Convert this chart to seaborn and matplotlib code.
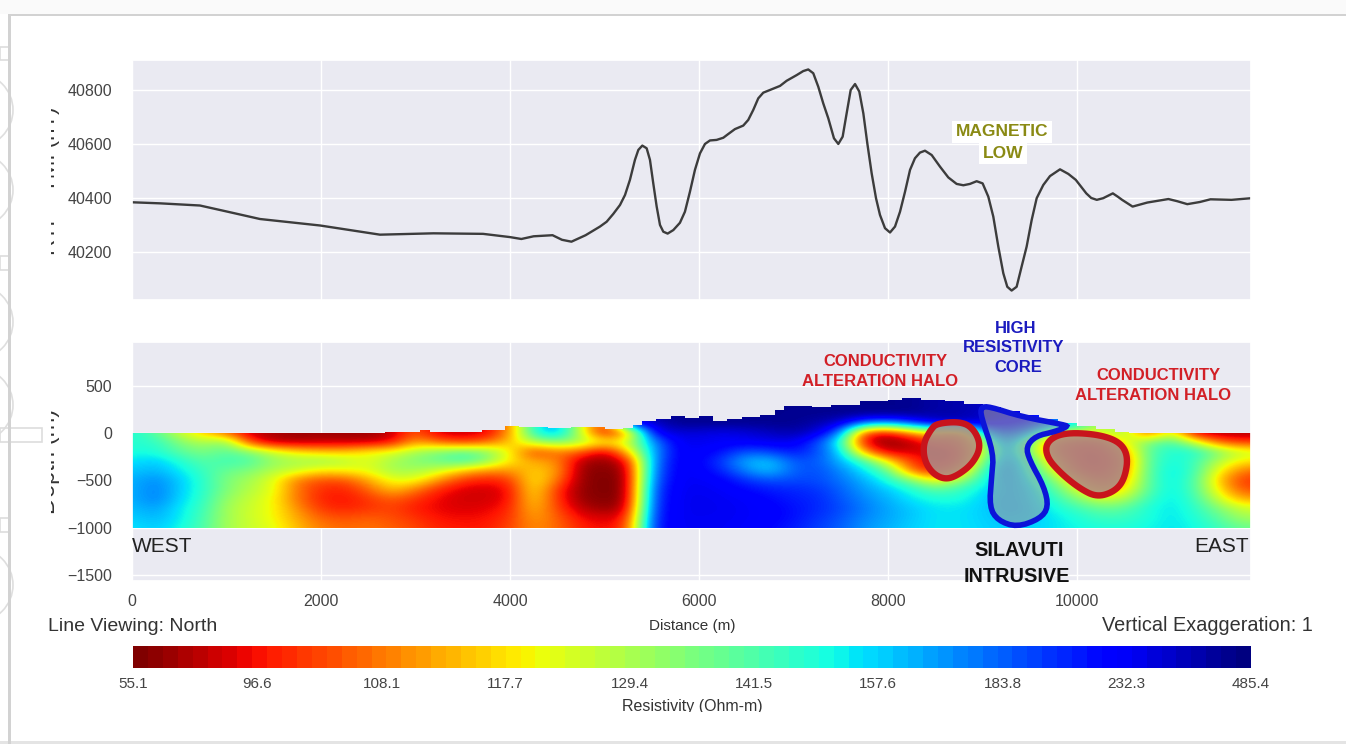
import numpy as np
import matplotlib
matplotlib.use('Agg')
import matplotlib.pyplot as plt
from matplotlib.patches import Polygon, Rectangle, Circle
import pandas as pd
import seaborn as sns

# magnetic profile
mag_distance = [0, 300, 719, 1000, 1354, 1990, 2624, 3190, 3715, 4000, 4120, 4250, 4450, 4550, 4650, 4800,
                4952, 5023, 5093, 5164, 5217, 5269, 5322, 5358, 5400, 5446, 5481, 5516, 5552, 5587, 5622,
                5668, 5728, 5798, 5851, 5904, 5957, 6010, 6063, 6116, 6186, 6257, 6310, 6380, 6468, 6521,
                6574, 6627, 6680, 6751, 6857, 6927, 7033, 7103, 7156, 7209, 7262, 7315, 7368, 7428, 7474,
                7520, 7562, 7605, 7651, 7696, 7739, 7781, 7827, 7873, 7915, 7968, 8021, 8074, 8127, 8180,
                8233, 8285, 8338, 8391, 8462, 8550, 8638, 8726, 8797, 8867, 8938, 9001, 9061, 9114, 9167,
                9220, 9262, 9308, 9361, 9414, 9467, 9520, 9573, 9643, 9714, 9820, 9908, 9987, 10098, 10150,
                10209, 10276, 10379, 10430, 10477, 10588, 10744, 10967, 11060, 11167, 11300, 11412, 11635, 11841]
mag_value = [40384, 40380, 40372, 40350, 40322, 40298, 40264, 40269, 40267, 40255, 40248, 40258, 40262, 40245, 40238, 40262,
             40294, 40312, 40341, 40374, 40411, 40467, 40541, 40578, 40594, 40584, 40541, 40454, 40368, 40300, 40275,
             40268, 40281, 40308, 40349, 40423, 40504, 40565, 40600, 40613, 40615, 40623, 40637, 40655, 40668, 40689,
             40726, 40769, 40790, 40800, 40815, 40834, 40855, 40870, 40876, 40862, 40812, 40750, 40695, 40621, 40600,
             40627, 40713, 40800, 40822, 40794, 40713, 40602, 40491, 40399, 40337, 40288, 40272, 40294, 40349, 40423,
             40504, 40547, 40568, 40575, 40559, 40516, 40476, 40452, 40447, 40452, 40462, 40454, 40405, 40331, 40220,
             40121, 40071, 40057, 40071, 40146, 40220, 40318, 40399, 40448, 40481, 40506, 40489, 40467, 40417, 40400,
             40393, 40399, 40417, 40405, 40393, 40368, 40383, 40396, 40388, 40377, 40385, 40395, 40393, 40399]

# resistivity section, ohm-m, one row per elevation, columns every 250 m from 0 to 12000
col_distance = np.arange(0, 12001, 250)
left_top = [150, 140, 125, 115, 105, 75, 70, 65, 65, 65, 65, 75, 105, 80, 80, 85, 110, 150, 170, 125, 85]
right_tail = [125, 132, 100, 125, 75, 70, 70, 70]
r_p400 = left_top + [300] + [450] * 12 + [400, 400, 350, 300, 250, 200, 160] + right_tail
r_p300 = r_p400
r_p200 = r_p400
r_p100 = left_top + [230, 300, 450, 450, 450, 450, 450, 450, 400, 300, 180, 170, 200, 300, 350, 300, 230, 220, 180, 160] + right_tail
r_000 = left_top + [110, 230, 300, 300, 260, 300, 350, 400, 300, 180, 100, 80, 110, 120, 105, 160, 200, 170, 130, 122, 125, 132, 100, 125, 75, 70, 70, 70]
r_m100 = [148, 148, 135, 128, 135, 100, 70, 70, 75, 75, 75, 90, 112, 105, 100, 105, 115, 128, 135, 130, 120, 125,
          170, 240, 260, 240, 240, 260, 260, 200, 150, 80, 60, 70, 100, 100, 130, 180, 135, 108, 100, 100, 122, 135, 145, 125, 105, 100, 100]
r_m200 = [150, 150, 140, 135, 140, 135, 125, 118, 115, 115, 120, 122, 130, 135, 140, 135, 120, 100, 108, 105, 75, 115,
          165, 230, 240, 220, 190, 200, 220, 195, 160, 110, 75, 85, 80, 90, 125, 175, 135, 105, 95, 90, 110, 140, 150, 150, 135, 125, 125]
r_m300 = [155, 160, 150, 140, 145, 142, 132, 130, 132, 128, 122, 130, 135, 138, 145, 135, 118, 112, 110, 70, 60, 85,
          170, 235, 230, 200, 165, 160, 190, 190, 165, 145, 118, 100, 85, 95, 135, 175, 145, 115, 95, 85, 105, 140, 152, 145, 128, 118, 118]
r_m400 = [160, 165, 155, 145, 138, 135, 128, 125, 118, 120, 122, 130, 130, 125, 115, 110, 110, 116, 112, 60, 58, 65,
          175, 235, 235, 210, 175, 160, 185, 195, 175, 155, 140, 105, 95, 110, 145, 175, 150, 125, 100, 90, 108, 140, 155, 145, 120, 108, 105]
r_m500 = [165, 175, 160, 148, 135, 130, 122, 108, 103, 103, 112, 122, 122, 110, 100, 97, 100, 120, 108, 60, 56, 60,
          180, 240, 245, 230, 205, 190, 195, 195, 180, 165, 150, 135, 118, 130, 150, 170, 155, 135, 115, 100, 112, 140, 155, 142, 115, 100, 100]
r_m600 = [165, 178, 160, 148, 135, 128, 122, 107, 99, 98, 105, 115, 108, 98, 85, 82, 92, 120, 100, 60, 56, 60,
          190, 245, 255, 240, 225, 215, 210, 205, 185, 170, 160, 150, 140, 145, 155, 165, 160, 142, 125, 110, 118, 140, 155, 142, 118, 103, 103]
r_m700 = [165, 178, 158, 147, 132, 126, 120, 107, 98, 96, 100, 105, 100, 90, 82, 82, 92, 118, 100, 62, 57, 62,
          195, 250, 260, 250, 235, 225, 215, 210, 190, 175, 165, 155, 150, 150, 158, 165, 160, 148, 135, 125, 128, 145, 155, 145, 125, 112, 112]
r_m800 = [162, 170, 155, 145, 130, 125, 120, 110, 100, 98, 100, 102, 97, 90, 85, 88, 98, 115, 102, 75, 62, 75,
          200, 250, 260, 255, 240, 230, 220, 210, 195, 178, 168, 160, 155, 155, 158, 165, 162, 152, 145, 138, 140, 150, 155, 148, 135, 125, 125]
r_m900 = [158, 165, 155, 143, 130, 125, 120, 112, 105, 103, 105, 103, 100, 95, 93, 95, 100, 112, 105, 92, 85, 95,
          205, 250, 255, 250, 240, 230, 220, 205, 190, 175, 168, 160, 155, 155, 158, 162, 160, 155, 150, 145, 145, 150, 155, 150, 140, 130, 130]
r_m1000 = [155, 160, 152, 142, 130, 125, 122, 114, 108, 106, 107, 105, 102, 98, 97, 97, 102, 110, 106, 98, 92, 100,
           210, 245, 250, 245, 235, 225, 215, 200, 185, 172, 165, 158, 155, 155, 157, 160, 158, 155, 152, 150, 150, 152, 155, 152, 145, 138, 138]

# top of the section
surface_x = [0, 2680, 3050, 3150, 3700, 3950, 4100, 4400, 4650, 5000, 5200, 5300, 5400, 5550, 5700, 5850,
             6000, 6150, 6300, 6450, 6650, 6800, 6900, 7200, 7400, 7700, 8000, 8150, 8350, 8600, 8800,
             9000, 9200, 9400, 9600, 9800, 10000, 10200, 10400, 10550, 11840]
surface_z = [0, 10, 30, 10, 30, 70, 60, 55, 60, 40, 50, 90, 130, 150, 175, 160,
             175, 130, 150, 170, 190, 240, 290, 275, 300, 335, 345, 370, 350, 340, 310,
             270, 230, 190, 150, 110, 70, 45, 15, 0, 0]

# hand drawn outlines on the section (distance, elevation)
halo_west = [(8517, 103), (8784, 121), (8917, 32), (8984, -145), (8896, -323), (8740, -447),
             (8606, -493), (8472, -429), (8383, -287), (8374, -110), (8450, 32)]
halo_east = [(9675, -92), (9853, 4), (10209, -11), (10454, -92), (10543, -252), (10499, -500),
             (10388, -624), (10209, -677), (10031, -589), (9831, -429), (9675, -252)]
core = [(8984, 273), (9073, 280), (9408, 174), (9875, 85), (9898, 67), (9764, 14), (9563, -32), (9461, -145),
        (9497, -287), (9653, -571), (9698, -784), (9608, -908), (9363, -996), (9163, -926), (9073, -784),
        (9096, -465), (9118, -216), (8984, 174)]

cbar_ticks = [55.1, 96.6, 108.1, 117.7, 129.4, 141.5, 157.6, 183.8, 232.3, 485.4]
cbar_levels = 75
mag_ticks = [40200, 40400, 40600, 40800]
depth_ticks = [-1500, -1000, -500, 0, 500]
dist_ticks = [0, 2000, 4000, 6000, 8000, 10000]

W, H = 1346, 744

sns.set_theme(style='darkgrid')
plt.rcParams['font.family'] = ['Liberation Sans', 'DejaVu Sans']
plt.rcParams['xtick.color'] = '#444444'
plt.rcParams['ytick.color'] = '#444444'


def rect(x0, y0, x1, y1):
    # pixel box (top left origin) to figure fraction
    return [x0 / W, 1 - y1 / H, (x1 - x0) / W, (y1 - y0) / H]


def label(x, y, s, **kw):
    kw.setdefault('ha', 'center')
    kw.setdefault('va', 'center')
    return fig.text(x / W, 1 - y / H, s, **kw)


def rounded(points, n=3):
    # corner cutting so the outlines look hand drawn
    pts = np.array(points, dtype=float)
    for _ in range(n):
        nxt = np.roll(pts, -1, axis=0)
        pts = np.vstack([0.75 * pts + 0.25 * nxt, 0.25 * pts + 0.75 * nxt])
        order = np.arange(len(pts)).reshape(2, -1).T.ravel()
        pts = pts[order]
    return pts


fig = plt.figure(figsize=(W / 100, H / 100), dpi=100, facecolor='white')
ax_mag = fig.add_axes(rect(132, 60, 1251, 300))
ax_sec = fig.add_axes(rect(132, 342, 1251, 581))
ax_bar = fig.add_axes(rect(133, 646, 1251, 668))

# magnetic line
df_mag = pd.DataFrame({'distance': mag_distance, 'value': mag_value})
sns.lineplot(data=df_mag, x='distance', y='value', ax=ax_mag, color='#3c3c3c', linewidth=1.7, estimator=None)
ax_mag.set_xlim(0, 11841)
ax_mag.set_ylim(40022, 40911)
ax_mag.set_yticks(mag_ticks)
ax_mag.set_xticks(dist_ticks)
ax_mag.tick_params(axis='x', labelbottom=False)
ax_mag.tick_params(axis='y', labelsize=11.5, pad=8.5)
ax_mag.set_xlabel('')
ax_mag.set_ylabel('')

# section
section = np.array([r_p400, r_p300, r_p200, r_p100, r_000, r_m100, r_m200, r_m300, r_m400,
                    r_m500, r_m600, r_m700, r_m800, r_m900, r_m1000], dtype=float)
section_pos = np.interp(section, cbar_ticks, np.linspace(0, 1, len(cbar_ticks)))
im = ax_sec.imshow(section_pos, cmap='jet_r', vmin=0, vmax=1, aspect='auto', origin='upper',
                   extent=(col_distance[0] - 125, col_distance[-1] + 125, -1050, 450),
                   interpolation='bicubic', interpolation_stage='data', zorder=2)
sx = np.repeat(surface_x, 2)[1:]
sz = np.repeat(surface_z, 2)[:-1]
outline = np.vstack([np.column_stack([sx, sz]), [[11840, -1000], [0, -1000]]])
clip = Polygon(outline, closed=True, transform=ax_sec.transData)
im.set_clip_path(clip)

for pts in (halo_west, halo_east):
    ax_sec.add_patch(Polygon(rounded(pts), closed=True, facecolor='#aa8e8a', alpha=0.88, edgecolor='none', zorder=3))
    ax_sec.add_patch(Polygon(rounded(pts), closed=True, fill=False, edgecolor='#c8141c', linewidth=4.6, zorder=4))
ax_sec.add_patch(Polygon(rounded(core, 2), closed=True, facecolor='#a8a29c', alpha=0.58, edgecolor='none', zorder=3))
ax_sec.add_patch(Polygon(rounded(core, 2), closed=True, fill=False, edgecolor='#0c14d8', linewidth=4, zorder=4))

ax_sec.set_xlim(0, 11841)
ax_sec.set_ylim(-1566, 963)
ax_sec.set_xticks(dist_ticks)
ax_sec.set_yticks(depth_ticks)
ax_sec.tick_params(axis='both', labelsize=11.5)
ax_sec.tick_params(axis='x', pad=3.5)
ax_sec.tick_params(axis='y', pad=8.5)
ax_sec.set_xlabel('')
ax_sec.set_ylabel('')

# stepped colour bar
levels = np.linspace(0, 1, cbar_levels).reshape(1, -1)
sns.heatmap(levels, ax=ax_bar, cmap='jet_r', vmin=0, vmax=1, cbar=False, xticklabels=False, yticklabels=False)
ax_bar.set_xticks(np.linspace(0, cbar_levels, len(cbar_ticks)))
ax_bar.set_xticklabels([f'{t:.1f}' for t in cbar_ticks], fontsize=11, color='#444444')
ax_bar.tick_params(axis='x', length=0, pad=6.5)

# labels around the panels
label(60, 181, 'RTP - TMI (nT)', rotation=90, fontsize=16, ha='right', color='#333333', zorder=3)
label(60, 461, 'Depth (m)', rotation=90, fontsize=17, ha='right', color='#333333', zorder=3)
label(692, 626, 'Distance (m)', fontsize=11, color='#333333')
label(692, 707, 'Resistivity (Ohm-m)', fontsize=11.5, color='#333333', zorder=3)
label(48, 631, 'Line Viewing: North', fontsize=14, ha='left', va='baseline', color='#333333', zorder=3)
label(1102, 631, 'Vertical Exaggeration: 1', fontsize=14.3, ha='left', va='baseline', color='#333333')

red = '#d21f26'
blue = '#1b1bbf'
label(885, 362, 'CONDUCTIVITY', fontsize=12, fontweight='bold', color=red)
label(880, 382, 'ALTERATION HALO', fontsize=12, fontweight='bold', color=red)
label(1158, 376, 'CONDUCTIVITY', fontsize=12, fontweight='bold', color=red)
label(1153, 396, 'ALTERATION HALO', fontsize=12, fontweight='bold', color=red)
label(1016, 328, 'HIGH', fontsize=12, fontweight='bold', color=blue)
label(1014, 348, 'RESISTIVITY', fontsize=12, fontweight='bold', color=blue)
label(1018, 368, 'CORE', fontsize=12, fontweight='bold', color=blue)
label(1019, 551, 'SILAVUTI', fontsize=14.3, fontweight='bold', color='#111111')
label(1017, 577, 'INTRUSIVE', fontsize=14.3, fontweight='bold', color='#111111')
label(132, 546, 'WEST', fontsize=15, ha='left', color='#222222')
label(1249, 546, 'EAST', fontsize=15, ha='right', color='#222222')

olive = '#8a8a14'
box = dict(facecolor='white', edgecolor='none', pad=2.5)
label(1002, 132, 'MAGNETIC', fontsize=12.5, fontweight='bold', color=olive, bbox=box)
label(1003, 153, 'LOW', fontsize=12.5, fontweight='bold', color=olive, bbox=box)


# page furniture of the screenshot, on top of the clipped labels
def page_rect(x0, y0, x1, y1, **kw):
    fig.add_artist(Rectangle((x0 / W, 1 - y1 / H), (x1 - x0) / W, (y1 - y0) / H,
                             transform=fig.transFigure, zorder=5, **kw))


page_rect(13, 95, 51, 525, facecolor='white', edgecolor='none')
page_rect(13, 612, 49, 640, facecolor='white', edgecolor='none')
page_rect(640, 712, 760, 735, facecolor='white', edgecolor='none')
page_rect(0, 0, W, 14, facecolor='#fafafa', edgecolor='none')
page_rect(8, 14, W, 16, facecolor='#d2d2d2', edgecolor='none')
page_rect(0, 741, W, 744, facecolor='#e4e4e4', edgecolor='none')
for cy in (110, 190, 322, 405, 585):
    fig.add_artist(Circle((-24, H - cy), 37, transform=None, facecolor='none', edgecolor='#dedede', linewidth=1.2, zorder=5))
page_rect(0, 428, 42, 442, facecolor='none', edgecolor='#dddddd', linewidth=1.2)
for y0, y1 in ((47, 60), (256, 270), (518, 532)):
    page_rect(0, y0, 10, y1, facecolor='none', edgecolor='#dddddd', linewidth=1.2)
page_rect(8, 14, 11, 744, facecolor='#d2d2d2', edgecolor='none')

fig.savefig('out.png', dpi=100)
